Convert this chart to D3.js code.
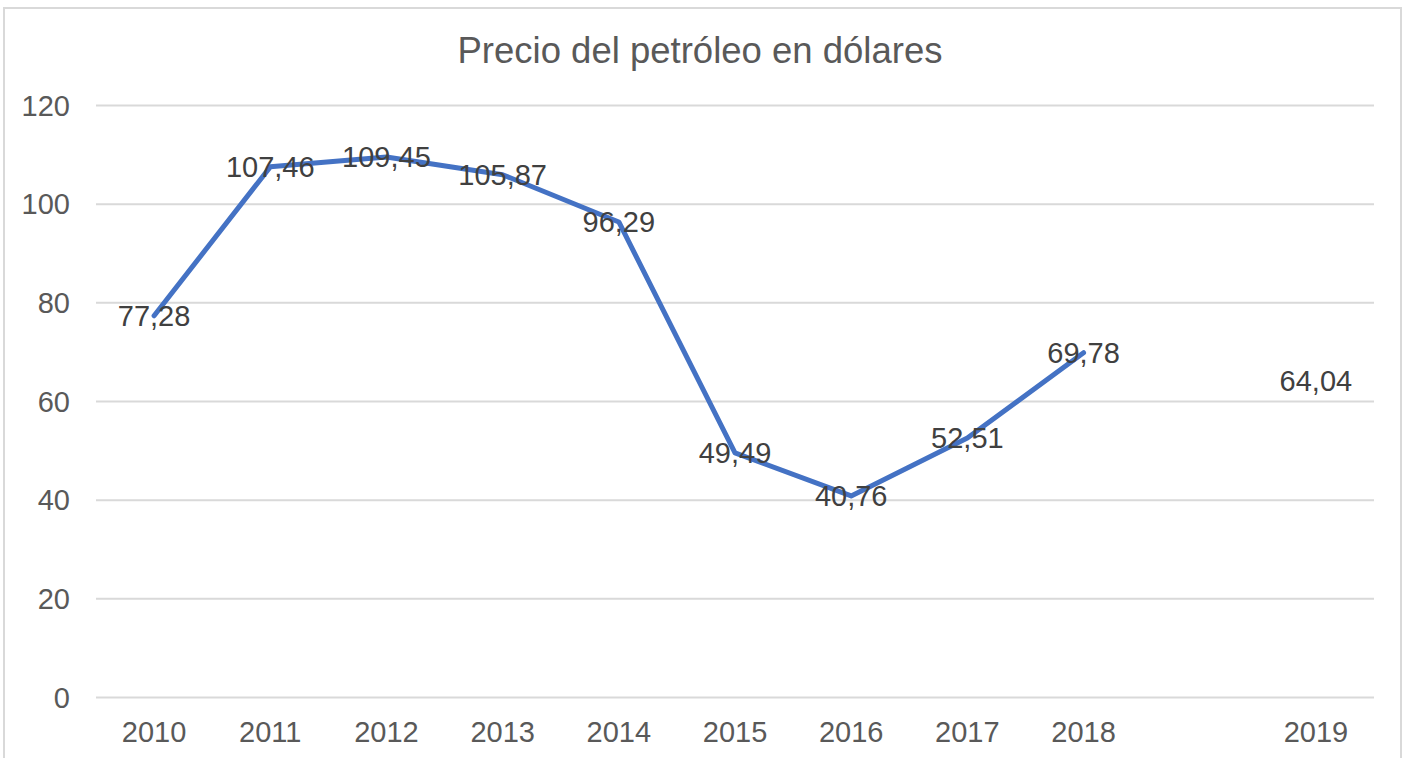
<!DOCTYPE html>
<html>
<head>
<meta charset="utf-8">
<script src="https://cdn.jsdelivr.net/npm/d3@7"></script>
<style>
  body { margin: 0; background: #fff; }
  text { font-family: "Liberation Sans", Arial, sans-serif; }
  .grid line { stroke: #d9d9d9; stroke-width: 2; }
  .grid path { display: none; }
  .axis path, .axis line { display: none; }
  .axis text { fill: #595959; font-size: 29px; }
  .line { fill: none; stroke: #4472c4; stroke-width: 5; stroke-linejoin: round; stroke-linecap: round; }
  .label { fill: #404040; font-size: 29px; }
</style>
</head>
<body>
<script>
// categories (a blank slot sits between 2018 and 2019)
const years = ["2010", "2011", "2012", "2013", "2014", "2015", "2016", "2017", "2018", "", "2019"];
const prices = [77.28, 107.46, 109.45, 105.87, 96.29, 49.49, 40.76, 52.51, 69.78, null, 64.04];
const yTicks = [0, 20, 40, 60, 80, 100, 120];

const w = 1409, h = 758;
const margin = {top: 105, right: 35, bottom: 61, left: 96};

const data = years.map((y, i) => ({year: y, price: prices[i], key: "c" + i}));

const svg = d3.select("body")
    .append("svg")
    .attr("width", w)
    .attr("height", h);

// outer frame
svg.append("rect")
    .attr("x", 4)
    .attr("y", 8)
    .attr("width", 1397)
    .attr("height", 760)
    .attr("fill", "none")
    .attr("stroke", "#d9d9d9")
    .attr("stroke-width", 2);

let x = d3.scaleBand()
    .domain(data.map(d => d.key))
    .range([margin.left, w - margin.right]);

let y = d3.scaleLinear()
    .domain([0, 120])
    .range([h - margin.bottom, margin.top]);

svg.append("g")
    .attr("class", "grid")
    .attr("transform", `translate(${margin.left},0)`)
    .call(d3.axisLeft(y)
        .tickValues(yTicks)
        .tickSize(-(w - margin.left - margin.right))
        .tickFormat(""));

svg.append("g")
    .attr("class", "axis")
    .attr("transform", `translate(${margin.left - 26},0)`)
    .call(d3.axisLeft(y).tickValues(yTicks).tickSize(0).tickPadding(0))
    .selectAll("text")
    .attr("dy", "0.35em");

svg.append("g")
    .attr("class", "axis")
    .attr("transform", `translate(0,${h - margin.bottom})`)
    .call(d3.axisBottom(x).tickSize(0).tickPadding(0)
        .tickFormat((k, i) => years[i]))
    .selectAll("text")
    .attr("y", 35)
    .attr("dy", "0.35em");

let line = d3.line()
    .defined(d => d.price !== null)
    .x(d => x(d.key) + x.bandwidth() / 2)
    .y(d => y(d.price));

// the blank cell before 2019 breaks the line, so only 2010-2018 are joined
svg.append("path")
    .datum(data.slice(0, 9))
    .attr("class", "line")
    .attr("d", line);

svg.append("g")
    .selectAll("text")
    .data(data.filter(d => d.price !== null))
    .enter().append("text")
    .attr("class", "label")
    .attr("x", d => x(d.key) + x.bandwidth() / 2)
    .attr("y", d => y(d.price))
    .attr("dy", "0.35em")
    .attr("text-anchor", "middle")
    .text(d => d3.format(".2f")(d.price).replace(".", ","));

svg.append("text")
    .attr("x", 700)
    .attr("y", 63)
    .attr("text-anchor", "middle")
    .attr("fill", "#595959")
    .style("font-size", "36.5px")
    .text("Precio del petróleo en dólares");
</script>
</body>
</html>
